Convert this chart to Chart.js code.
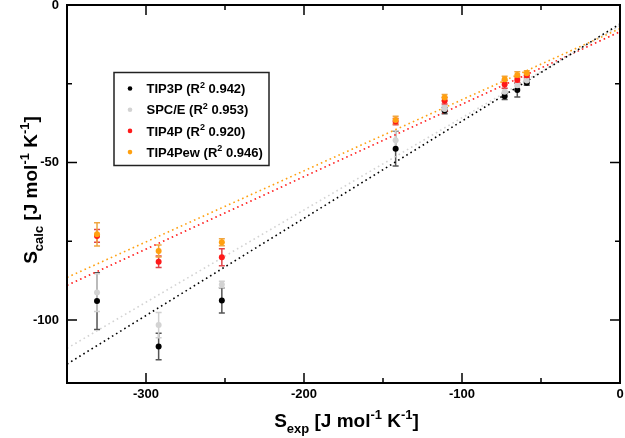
<!DOCTYPE html>
<html>
<head>
<meta charset="utf-8">
<script src="https://cdn.jsdelivr.net/npm/chart.js@4/dist/chart.umd.min.js"></script>
<style>
    html, body { margin: 0; padding: 0; background: #fff; }
    #wrap { width: 625px; height: 438px; }
</style>
</head>
<body>
<div id="wrap"><canvas id="chart"></canvas></div>
<script>
// experimental entropies (x) shared by all water models
var sExp = [-331, -292, -252, -142, -111, -73, -65, -59];

// calculated entropies and error bar half-widths
var tip3pCalc = [-94, -108.4, -93.8, -45.6, -33.5, -29, -27, -24.7];
var tip3pErr = [9, 4.2, 4, 5.5, 1, 1, 2.2, 0.8];
var spceCalc = [-91.3, -101.6, -88.7, -42.9, -33, -27.5, -25.5, -24];
var spceErr = [6, 4, 1, 3, 1, 1, 1, 0.8];
var tip4pCalc = [-73.3, -81.5, -80.1, -37, -30.4, -25.2, -23.8, -22.3];
var tip4pErr = [2, 1.8, 2.7, 1, 1, 1.2, 1, 0.8];
var tip4pewCalc = [-72.8, -78.1, -75.3, -36.5, -29.4, -23.6, -22.2, -21.7];
var tip4pewErr = [3.7, 1.9, 1.1, 1.2, 1, 1, 1, 0.8];

// fitted lines, read at both ends of the x range
var fitX = [-350, 0];
var tip3pFit = [-114, -6];
var spceFit = [-109, -6.5];
var tip4pFit = [-89, -8.5];
var tip4pewFit = [-86.5, -7.5];

var modelNames = ['TIP3P', 'SPC/E', 'TIP4P', 'TIP4Pew'];
var r2Values = ['0.942', '0.953', '0.920', '0.946'];

var xTicks = [-300, -250, -200, -150, -100, -50, 0];
var xLabelled = [-300, -200, -100, 0];
var yTicks = [-100, -75, -50, -25, 0];
var yLabelled = [-100, -50, 0];

var colors = ['#000000', '#d3d3d3', '#ff1a1a', '#ffa010'];
var errColors = ['#555555', '#d0d0d0', '#e0454a', '#f0a540'];
var FONT = '"Liberation Sans", Arial, Helvetica, sans-serif';

function pts(xs, ys) {
    return xs.map(function (x, i) {
        return {x: x, y: ys[i]};
    });
}

function pointSet(idx, ys, errs, order) {
    return {
        label: modelNames[idx],
        data: pts(sExp, ys),
        errors: errs,
        errorColor: errColors[idx],
        showLine: false,
        pointRadius: 3,
        pointBorderWidth: 0,
        backgroundColor: colors[idx],
        borderColor: colors[idx],
        order: order
    };
}

function fitSet(idx, ys) {
    return {
        label: modelNames[idx] + ' fit',
        data: pts(fitX, ys),
        showLine: true,
        pointRadius: 0,
        borderColor: colors[idx],
        borderWidth: 1.6,
        borderDash: [1.6, 3.2],
        order: 10 + idx
    };
}

// draw a string made of normal / sub / superscript pieces
function richText(ctx, parts, x, y, big, small, align) {
    var total = 0;
    parts.forEach(function (p) {
        ctx.font = 'bold ' + (p[1] ? small : big) + 'px ' + FONT;
        total += ctx.measureText(p[0]).width;
    });
    var cx = align === 'center' ? x - total / 2 : x;
    parts.forEach(function (p) {
        ctx.font = 'bold ' + (p[1] ? small : big) + 'px ' + FONT;
        var dy = p[1] === 1 ? -big * 0.42 : (p[1] === -1 ? big * 0.3 : 0);
        ctx.fillText(p[0], cx, y + dy);
        cx += ctx.measureText(p[0]).width;
    });
}

var errorBars = {
    id: 'errorBars',
    beforeDatasetsDraw: function (chart) {
        var ctx = chart.ctx, xs = chart.scales.x, ys = chart.scales.y;
        chart.data.datasets.forEach(function (ds) {
            if (!ds.errors) return;
            ctx.save();
            ctx.strokeStyle = ds.errorColor;
            ctx.lineWidth = 1.5;
            ds.data.forEach(function (p, i) {
                var px = xs.getPixelForValue(p.x);
                var top = ys.getPixelForValue(p.y + ds.errors[i]);
                var bot = ys.getPixelForValue(p.y - ds.errors[i]);
                ctx.beginPath();
                ctx.moveTo(px, top);
                ctx.lineTo(px, bot);
                ctx.moveTo(px - 3, top);
                ctx.lineTo(px + 3, top);
                ctx.moveTo(px - 3, bot);
                ctx.lineTo(px + 3, bot);
                ctx.stroke();
            });
            ctx.restore();
        });
    }
};

var frame = {
    id: 'frame',
    afterDraw: function (chart) {
        var ctx = chart.ctx, a = chart.chartArea;
        var xs = chart.scales.x, ys = chart.scales.y;
        ctx.save();
        ctx.strokeStyle = '#000';
        ctx.lineWidth = 1.5;
        ctx.beginPath();
        xTicks.forEach(function (v) {
            var px = xs.getPixelForValue(v);
            var len = xLabelled.indexOf(v) >= 0 ? 10 : 5;
            ctx.moveTo(px, a.bottom);
            ctx.lineTo(px, a.bottom - len);
            ctx.moveTo(px, a.top);
            ctx.lineTo(px, a.top + len);
        });
        yTicks.forEach(function (v) {
            var py = ys.getPixelForValue(v);
            var len = yLabelled.indexOf(v) >= 0 ? 10 : 5;
            ctx.moveTo(a.left, py);
            ctx.lineTo(a.left + len, py);
            ctx.moveTo(a.right, py);
            ctx.lineTo(a.right - len, py);
        });
        ctx.stroke();
        ctx.lineWidth = 2;
        ctx.strokeRect(a.left, a.top, a.right - a.left, a.bottom - a.top);

        // axis titles
        ctx.fillStyle = '#000';
        ctx.textBaseline = 'alphabetic';
        ctx.textAlign = 'left';
        richText(ctx, [['S', 0], ['exp', -1], [' [J mol', 0], ['-1', 1], [' K', 0], ['-1', 1], [']', 0]],
            (a.left + a.right) / 2 + 3, 427, 19, 13, 'center');
        ctx.save();
        ctx.translate(37, (a.top + a.bottom) / 2 - 4);
        ctx.rotate(-Math.PI / 2);
        richText(ctx, [['S', 0], ['calc', -1], [' [J mol', 0], ['-1', 1], [' K', 0], ['-1', 1], [']', 0]],
            0, 0, 19, 13, 'center');
        ctx.restore();

        // legend box
        ctx.fillStyle = '#fff';
        ctx.fillRect(114, 72.5, 155, 93);
        ctx.strokeStyle = '#222';
        ctx.lineWidth = 1.5;
        ctx.strokeRect(114, 72.5, 155, 93);
        modelNames.forEach(function (name, i) {
            var cy = 88.5 + i * 21.2;
            ctx.fillStyle = colors[i];
            ctx.beginPath();
            ctx.arc(130, cy, 2.3, 0, Math.PI * 2);
            ctx.fill();
            ctx.fillStyle = '#000';
            richText(ctx, [[name + ' (R', 0], ['2', 1], [' ' + r2Values[i] + ')', 0]],
                146.5, cy + 4.7, 13, 9, 'left');
        });
        ctx.restore();
    }
};

var tickFont = {family: FONT, weight: 'bold', size: 13, lineHeight: 1};

new Chart(document.getElementById('chart'), {
    type: 'scatter',
    data: {
        datasets: [
            pointSet(0, tip3pCalc, tip3pErr, 4),
            pointSet(1, spceCalc, spceErr, 3),
            pointSet(2, tip4pCalc, tip4pErr, 2),
            pointSet(3, tip4pewCalc, tip4pewErr, 1),
            fitSet(0, tip3pFit),
            fitSet(1, spceFit),
            fitSet(2, tip4pFit),
            fitSet(3, tip4pewFit)
        ]
    },
    options: {
        responsive: true,
        maintainAspectRatio: false,
        animation: false,
        layout: {padding: {top: 5, right: 5, left: 0, bottom: 0}},
        plugins: {legend: {display: false}, tooltip: {enabled: false}},
        scales: {
            x: {
                type: 'linear',
                min: -350,
                max: 0,
                grid: {display: false, drawTicks: false},
                border: {display: false},
                afterBuildTicks: function (s) {
                    s.ticks = xTicks.map(function (v) { return {value: v}; });
                },
                afterFit: function (s) {
                    s.height = 55;
                    s.paddingLeft = 0;
                    s.paddingRight = 0;
                },
                ticks: {
                    padding: 5,
                    color: '#000',
                    font: tickFont,
                    maxRotation: 0,
                    autoSkip: false,
                    callback: function (v) { return xLabelled.indexOf(v) >= 0 ? String(v) : ''; }
                }
            },
            y: {
                type: 'linear',
                min: -120,
                max: 0,
                grid: {display: false, drawTicks: false},
                border: {display: false},
                afterBuildTicks: function (s) {
                    s.ticks = yTicks.map(function (v) { return {value: v}; });
                },
                afterFit: function (s) {
                    s.width = 67;
                    s.paddingTop = 0;
                    s.paddingBottom = 0;
                },
                ticks: {
                    padding: 8,
                    color: '#000',
                    font: tickFont,
                    autoSkip: false,
                    callback: function (v) { return yLabelled.indexOf(v) >= 0 ? String(v) : ''; }
                }
            }
        }
    },
    plugins: [errorBars, frame]
});
</script>
</body>
</html>
